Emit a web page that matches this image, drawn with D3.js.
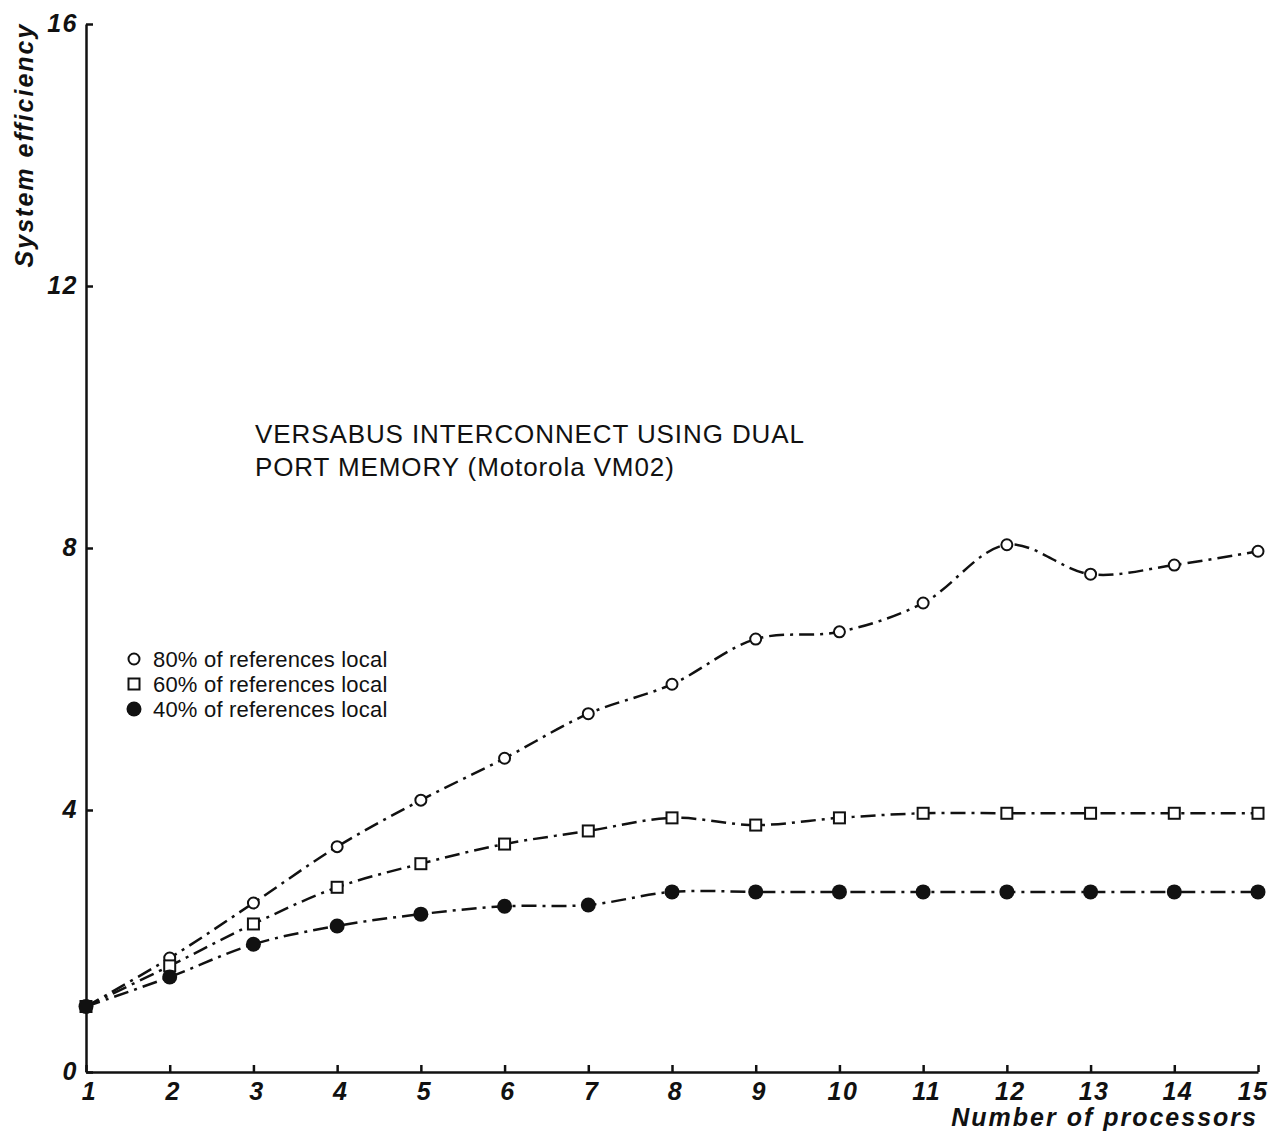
<!DOCTYPE html>
<html>
<head>
<meta charset="utf-8">
<script src="https://cdn.jsdelivr.net/npm/d3@7"></script>
<style>
  body { margin: 0; background: #fff; }
  svg { display: block; font-family: "Liberation Sans", Arial, sans-serif; }
</style>
</head>
<body>
<div class="canvas"></div>
<script>
const procs = [1, 2, 3, 4, 5, 6, 7, 8, 9, 10, 11, 12, 13, 14, 15];
const eff80 = [1.0, 1.74, 2.58, 3.44, 4.15, 4.79, 5.47, 5.92, 6.61, 6.72, 7.16, 8.05, 7.6, 7.74, 7.95];
const eff60 = [1.0, 1.62, 2.26, 2.82, 3.18, 3.48, 3.68, 3.88, 3.77, 3.88, 3.95, 3.95, 3.95, 3.95, 3.95];
const eff40 = [1.0, 1.45, 1.95, 2.23, 2.41, 2.53, 2.55, 2.75, 2.75, 2.75, 2.75, 2.75, 2.75, 2.75, 2.75];
const yTicks = [0, 4, 8, 12, 16];
const seriesNames = ['80% of references local', '60% of references local', '40% of references local'];
const titleLines = ['VERSABUS INTERCONNECT USING DUAL', 'PORT MEMORY (Motorola VM02)'];

const series = [
    {name: seriesNames[0], values: eff80, marker: 'circle'},
    {name: seriesNames[1], values: eff60, marker: 'square'},
    {name: seriesNames[2], values: eff40, marker: 'dot'}
];

const width = 1268, height = 1133;
const margin = {top: 24, right: 10, bottom: 61, left: 86};

const svg = d3.select('.canvas')
    .append('svg')
    .attr('width', width)
    .attr('height', height);

const x = d3.scaleLinear().domain([1, 15]).range([margin.left, width - margin.right]);
const y = d3.scaleLinear().domain([0, 16]).range([height - margin.bottom, margin.top]);

// axes, ticks point inward
const xAxis = d3.axisBottom(x)
    .tickValues(procs)
    .tickFormat(d3.format('d'))
    .tickSizeInner(-7)
    .tickSizeOuter(0)
    .tickPadding(10);

const yAxis = d3.axisLeft(y)
    .tickValues(yTicks)
    .tickSizeInner(-7)
    .tickSizeOuter(0)
    .tickPadding(8);

const xAxisGroup = svg.append('g')
    .attr('transform', `translate(0, ${y(0)})`)
    .call(xAxis);

const yAxisGroup = svg.append('g')
    .attr('transform', `translate(${x(1)}, 0)`)
    .call(yAxis);

[xAxisGroup, yAxisGroup].forEach(g => {
    g.select('.domain').attr('stroke', '#111').attr('stroke-width', 2.5);
    g.selectAll('.tick line').attr('stroke', '#111').attr('stroke-width', 2.5);
    g.selectAll('.tick text')
        .attr('fill', '#111')
        .style('font-size', '25px')
        .style('font-weight', 'bold')
        .style('font-style', 'italic')
        .style('letter-spacing', '1.5px')
        .style('font-family', '"Liberation Sans", Arial, sans-serif');
});
yAxisGroup.selectAll('.tick text').attr('dy', '0.3em');
xAxisGroup.selectAll('.tick text').attr('dx', '3');
// the last label sits at the right edge, keep it inside
xAxisGroup.selectAll('.tick text')
    .filter(d => d === 15)
    .attr('text-anchor', 'end')
    .attr('dx', '10');

// axis titles
svg.append('text')
    .attr('x', width - margin.right)
    .attr('y', 1126)
    .attr('text-anchor', 'end')
    .attr('fill', '#111')
    .style('font-size', '25px')
    .style('font-weight', 'bold')
    .style('font-style', 'italic')
    .style('letter-spacing', '2px')
    .text('Number of processors');

svg.append('text')
    .attr('transform', 'translate(33, 145) rotate(-90)')
    .attr('text-anchor', 'middle')
    .attr('fill', '#111')
    .style('font-size', '25px')
    .style('font-weight', 'bold')
    .style('font-style', 'italic')
    .style('letter-spacing', '2px')
    .text('System efficiency');

// chart title
svg.append('g')
    .selectAll('text')
    .data(titleLines)
    .enter()
    .append('text')
    .attr('x', 255)
    .attr('y', (d, i) => 443 + i * 33)
    .attr('fill', '#111')
    .style('font-size', '26px')
    .style('letter-spacing', '0.9px')
    .text(d => d);

// lines
const line = d3.line()
    .x((d, i) => x(procs[i]))
    .y(d => y(d))
    .curve(d3.curveCatmullRom.alpha(0.5));

svg.append('g')
    .selectAll('path')
    .data(series)
    .enter()
    .append('path')
    .attr('fill', 'none')
    .attr('stroke', '#111')
    .attr('stroke-width', 2.5)
    .attr('stroke-dasharray', '15 6 3 6')
    .attr('d', d => line(d.values));

const drawMarker = (g, type, cx, cy) => {
    if (type === 'circle') {
        g.append('circle')
            .attr('cx', cx).attr('cy', cy).attr('r', 5.5)
            .attr('fill', '#fff').attr('stroke', '#111').attr('stroke-width', 2);
    } else if (type === 'square') {
        g.append('rect')
            .attr('x', cx - 5.5).attr('y', cy - 5.5)
            .attr('width', 11).attr('height', 11)
            .attr('fill', '#fff').attr('stroke', '#111').attr('stroke-width', 2);
    } else {
        g.append('circle')
            .attr('cx', cx).attr('cy', cy).attr('r', 7.5)
            .attr('fill', '#111');
    }
};

const markers = svg.append('g');
series.forEach(s => {
    s.values.forEach((v, i) => drawMarker(markers, s.marker, x(procs[i]), y(v)));
});

// legend
const legend = svg.append('g');
series.forEach((s, i) => {
    const ly = 659 + i * 25;
    drawMarker(legend, s.marker, 134, ly);
    legend.append('text')
        .attr('x', 153)
        .attr('y', ly)
        .attr('dy', '0.35em')
        .attr('fill', '#111')
        .style('font-size', '22px')
        .style('letter-spacing', '0.2px')
        .text(s.name);
});
</script>
</body>
</html>
